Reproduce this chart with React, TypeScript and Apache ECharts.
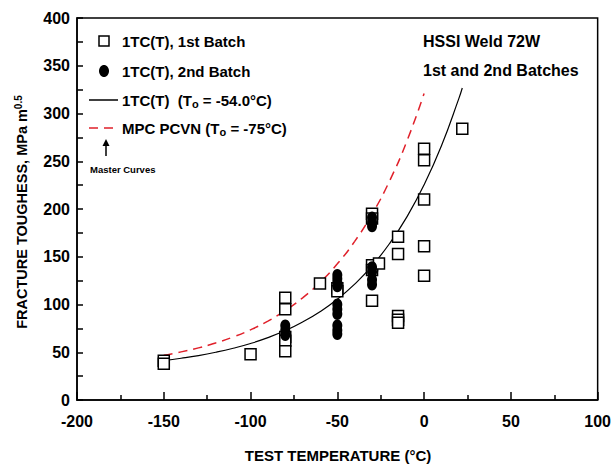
import React, { useEffect, useRef } from "react";
import * as echarts from "echarts";

// Batch 1 (open squares)
const batch1Temp = [-150, -150, -100, -80, -80, -80, -80, -80, -60, -50, -50, -30, -30, -30, -30, -30, -26, -15, -15, -15, -15, -15, 0, 0, 0, 0, 0, 22];
const batch1K = [41, 38, 48, 107, 95, 66, 62, 51, 122, 117, 114, 195, 190, 141, 136, 104, 143, 171, 153, 88, 84, 81, 263, 251, 210, 161, 130, 284];

// Batch 2 (filled circles)
const batch2Temp = [-80, -80, -80, -50, -50, -50, -50, -50, -50, -50, -50, -50, -50, -30, -30, -30, -30, -30, -30, -30];
const batch2K = [78, 73, 68, 131, 127, 123, 119, 100, 95, 90, 78, 73, 69, 191, 186, 182, 139, 134, 126, 121];

// Master curve 1TC(T), To = -54.0 °C
const curve1Temp = [-150, -140, -130, -120, -110, -100, -90, -80, -70, -60, -50, -40, -30, -20, -10, 0, 10, 20, 22];
const curve1K = [41.3, 43.7, 46.5, 50.0, 54.2, 59.2, 65.3, 72.7, 81.7, 92.5, 105.5, 121.3, 140.4, 163.6, 191.5, 225.3, 266.2, 315.6, 326.7];

// Master curve MPC PCVN, To = -75 °C
const curve2Temp = [-150, -140, -130, -120, -110, -100, -90, -80, -70, -60, -50, -40, -30, -20, -10, 0];
const curve2K = [46.8, 50.4, 54.6, 59.8, 66.0, 73.5, 82.6, 93.7, 107.0, 123.1, 142.6, 166.1, 194.6, 229.0, 270.7, 321.0];

const FONT = "Liberation Sans, Arial, sans-serif";

export default function App() {
  const ref = useRef<HTMLDivElement>(null);
  useEffect(() => {
    if (!ref.current) return;
    const chart = echarts.init(ref.current, undefined, { renderer: "svg" });
    const zip = (xs: number[], ys: number[]) => xs.map((x, i) => [x, ys[i]]);
    const bold = { fontFamily: FONT, fontWeight: "bold" as const, fill: "#000" };
    chart.setOption({
      animation: false,
      backgroundColor: "#fff",
      grid: { left: 77, right: 16, top: 18, bottom: 65, show: true, borderColor: "#000", borderWidth: 1.5, backgroundColor: "transparent" },
      xAxis: {
        type: "value",
        min: -200,
        max: 100,
        interval: 50,
        axisLine: { show: true, onZero: false, lineStyle: { color: "#000", width: 1.5 } },
        axisTick: { show: true, inside: true, length: 8, lineStyle: { color: "#000", width: 1.5 } },
        minorTick: { show: true, splitNumber: 2, length: 5, lineStyle: { color: "#000", width: 1.5 } },
        splitLine: { show: false },
        axisLabel: { color: "#000", fontFamily: FONT, fontWeight: "bold", fontSize: 16, margin: 13 },
      },
      yAxis: {
        type: "value",
        min: 0,
        max: 400,
        interval: 50,
        axisLine: { show: true, onZero: false, lineStyle: { color: "#000", width: 1.5 } },
        axisTick: { show: true, inside: true, length: 6, lineStyle: { color: "#000", width: 1.5 } },
        minorTick: { show: true, splitNumber: 2, length: 6, lineStyle: { color: "#000", width: 1.5 } },
        splitLine: { show: false },
        axisLabel: { color: "#000", fontFamily: FONT, fontWeight: "bold", fontSize: 16, margin: 7 },
      },
      series: [
        {
          type: "line",
          data: zip(curve2Temp, curve2K),
          smooth: true,
          showSymbol: false,
          lineStyle: { color: "#e0202a", width: 1.5, type: [9, 6] },
          z: 2,
        },
        {
          type: "line",
          data: zip(curve1Temp, curve1K),
          smooth: true,
          showSymbol: false,
          lineStyle: { color: "#000", width: 1.2 },
          z: 2,
        },
        {
          type: "scatter",
          data: zip(batch1Temp, batch1K),
          symbol: "rect",
          symbolSize: 11,
          itemStyle: { color: "#fff", borderColor: "#000", borderWidth: 1.5, opacity: 1 },
          z: 3,
        },
        {
          type: "scatter",
          data: zip(batch2Temp, batch2K),
          symbol: "circle",
          symbolSize: [10, 12],
          itemStyle: { color: "#000", opacity: 1 },
          z: 4,
        },
      ],
      graphic: [
        // Legend
        { type: "rect", shape: { x: 99, y: 36, width: 10, height: 10 }, style: { fill: "#fff", stroke: "#000", lineWidth: 1.5 } },
        { type: "text", x: 122, y: 41, style: { ...bold, text: "1TC(T), 1st Batch", fontSize: 15, verticalAlign: "middle" } },
        { type: "ellipse", shape: { cx: 104, cy: 71, rx: 5, ry: 6 }, style: { fill: "#000" } },
        { type: "text", x: 122, y: 71, style: { ...bold, text: "1TC(T), 2nd Batch", fontSize: 15, verticalAlign: "middle" } },
        { type: "line", shape: { x1: 89, y1: 100, x2: 118, y2: 100 }, style: { stroke: "#000", lineWidth: 1.5 } },
        {
          type: "text",
          x: 122,
          y: 100,
          style: {
            ...bold,
            text: "1TC(T)  (T{sub|o} = -54.0°C)",
            fontSize: 15,
            verticalAlign: "middle",
            rich: { sub: { fontFamily: FONT, fontWeight: "bold", fontSize: 11, verticalAlign: "bottom", padding: [8, 0, 0, 0] } },
          },
        },
        { type: "line", shape: { x1: 89, y1: 128, x2: 118, y2: 128 }, style: { stroke: "#e0202a", lineWidth: 1.5, lineDash: [9, 6] } },
        {
          type: "text",
          x: 122,
          y: 128,
          style: {
            ...bold,
            text: "MPC PCVN (T{sub|o} = -75°C)",
            fontSize: 15,
            verticalAlign: "middle",
            rich: { sub: { fontFamily: FONT, fontWeight: "bold", fontSize: 11, verticalAlign: "bottom", padding: [8, 0, 0, 0] } },
          },
        },
        { type: "line", shape: { x1: 106, y1: 156, x2: 106, y2: 143 }, style: { stroke: "#000", lineWidth: 1.5 } },
        { type: "polygon", shape: { points: [[106, 139], [102.5, 146], [109.5, 146]] }, style: { fill: "#000" } },
        { type: "text", x: 90, y: 169, style: { ...bold, text: "Master Curves", fontSize: 9.5, verticalAlign: "middle" } },
        // Title block
        { type: "text", x: 423, y: 41, style: { ...bold, text: "HSSI Weld 72W", fontSize: 16, verticalAlign: "middle" } },
        { type: "text", x: 423, y: 70, style: { ...bold, text: "1st and 2nd Batches", fontSize: 16, verticalAlign: "middle" } },
        // Axis titles
        { type: "text", x: 338, y: 455, style: { ...bold, text: "TEST TEMPERATURE (°C)", fontSize: 15, align: "center", verticalAlign: "middle" } },
        {
          type: "text",
          x: 22,
          y: 212,
          rotation: Math.PI / 2,
          style: {
            ...bold,
            text: "FRACTURE TOUGHESS, MPa m{sup|0.5}",
            fontSize: 14.5,
            align: "center",
            verticalAlign: "middle",
            rich: { sup: { fontFamily: FONT, fontWeight: "bold", fontSize: 10, verticalAlign: "top", padding: [0, 0, 8, 0] } },
          },
        },
      ],
    });
    return () => chart.dispose();
  }, []);
  return <div ref={ref} style={{ position: "fixed", left: 0, top: 0, width: 614, height: 465 }} />;
}
